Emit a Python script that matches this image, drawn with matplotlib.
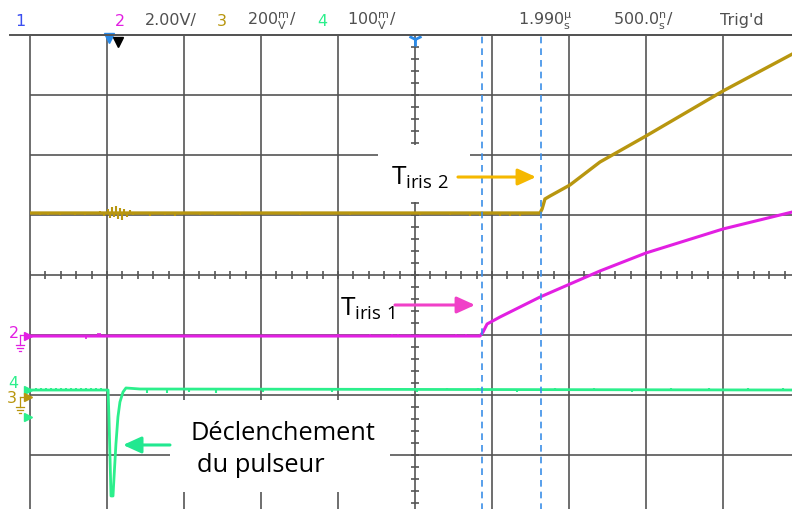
import numpy as np
import matplotlib
matplotlib.use("Agg")
import matplotlib.pyplot as plt
from matplotlib.patches import Rectangle

# timebase: 500 ns/div, delay 1.990 us at screen centre
t_center = 1.990
t_div = 0.5
t_left = t_center - 5 * t_div
t_right = t_center + 5 * t_div

# vertical positions are in screen divisions, 0 = centre line
# channel 3 (gold) : T iris 2
ch3_t = [t_left, 2.802, 2.815, 2.834, 2.867, 2.996, 3.191, 3.490, 3.990, 4.440]
ch3_y = [1.033, 1.033, 1.100, 1.267, 1.317, 1.500, 1.883, 2.317, 3.067, 3.683]
ch3_glitch_t = [-0.445, -0.393, -0.315, -0.218, -0.153, -0.055, -0.029, -0.003, 0.010,
                0.023, 0.036, 0.049, 0.062, 0.075, 0.088, 0.101, 0.120, 0.140, 0.159,
                0.269, 0.367, 0.432, 0.594, 0.692, 0.854, 1.244, 1.568, 2.023, 2.218,
                2.347, 2.412, 2.542, 2.607, 2.672]
ch3_glitch_a = [-0.03, -0.03, -0.03, -0.03, -0.03, 0.03, -0.05, 0.07, -0.08,
                0.10, -0.07, 0.12, -0.10, 0.08, -0.12, 0.07, -0.07, 0.05, -0.03,
                -0.05, -0.03, -0.05, -0.03, -0.03, -0.03, -0.03, -0.03, -0.03, -0.03,
                -0.05, -0.05, -0.05, -0.05, -0.05]

# channel 2 (magenta) : T iris 1
ch2_t = [t_left, 2.412, 2.432, 2.458, 2.542, 2.802, 3.191, 3.490, 3.990, 4.440]
ch2_y = [-1.017, -1.017, -0.950, -0.817, -0.700, -0.367, 0.067, 0.367, 0.767, 1.050]
ch2_glitch_t = [-0.146, -0.068, -0.055, 1.490, 1.698, 1.841, 1.880, 2.256, 2.321]
ch2_glitch_a = [-0.05, 0.05, 0.05, 0.04, 0.04, 0.04, 0.04, 0.04, 0.04]

# channel 4 (green) : trigger pulse
ch4_t = [t_left, -0.003, 0.003, 0.016, 0.029, 0.035, 0.048, 0.061, 0.074, 0.094, 0.113,
         0.204, t_right]
ch4_y = [-1.917, -1.917, -2.400, -3.683, -3.683, -3.400, -2.817, -2.367, -2.117,
         -1.950, -1.883, -1.900, -1.917]
ch4_glitch_t = [-0.470, -0.438, -0.406, -0.373, -0.341, -0.308, -0.276, -0.243, -0.211,
                -0.178, -0.146, -0.114, -0.081, -0.049, 0.250, 0.320, 0.380, 0.450,
                0.520, 0.600, 0.700, 0.790, 0.880, 1.000, 1.150, 1.300, 1.450, 1.600,
                1.800, 2.000, 2.200, 2.400, 2.650, 2.900, 3.150, 3.400, 3.650, 3.900,
                4.150, 4.380]
ch4_glitch_a = [0.04, 0.04, 0.04, 0.04, 0.04, 0.04, 0.04, 0.04, 0.04,
                0.04, 0.04, 0.04, 0.04, 0.04, -0.05, 0.04, -0.05, 0.04,
                -0.04, 0.04, -0.05, 0.04, 0.04, -0.04, 0.04, 0.04, -0.04, 0.04,
                0.04, -0.04, 0.04, 0.04, -0.04, 0.04, 0.04, -0.04, 0.04, 0.04,
                0.04, 0.04]

# cursors
cursor_t = [2.425, 2.808]

gold = "#b8960f"
magenta = "#e21fe2"
green = "#2cef8c"
grid_col = "#555555"

fig = plt.figure(figsize=(7.92, 5.10), dpi=100)
fig.patch.set_facecolor("white")
ax = fig.add_axes([30 / 792, -6 / 510, 770 / 792, 480 / 510])
ax.set_xlim(t_left, t_right)
ax.set_ylim(-4, 4)
ax.axis("off")

# graticule
grid_t = t_left + t_div * np.arange(11)
grid_y = np.arange(-4, 5)
ax.vlines(grid_t, -4, 4, color=grid_col, lw=1.2, clip_on=False, zorder=1)
ax.hlines(grid_y, t_left, t_right, color=grid_col, lw=1.2, clip_on=False, zorder=1)
fig.add_artist(plt.Line2D([10 / 792, 1], [1 - 36 / 510] * 2, color=grid_col, lw=1.4))
minor_t = t_left + t_div * np.arange(0, 10.01, 0.2)
minor_y = np.arange(-4, 4.01, 0.2)
ax.plot(minor_t, np.zeros_like(minor_t), ls="none", marker="|", ms=6, mew=1.2,
        color=grid_col, zorder=1)
ax.plot(np.full_like(minor_y, t_center), minor_y, ls="none", marker="_", ms=6, mew=1.2,
        color=grid_col, zorder=1)

# traces
ax.plot(ch3_t, ch3_y, color=gold, lw=2.4, zorder=3, solid_joinstyle="miter")
ax.vlines(ch3_glitch_t, 1.033, 1.033 + np.array(ch3_glitch_a), color=gold, lw=1.5, zorder=3)
ax.plot(ch2_t, ch2_y, color=magenta, lw=2.2, zorder=3)
ax.vlines(ch2_glitch_t, -1.017, -1.017 + np.array(ch2_glitch_a), color=magenta, lw=1.2, zorder=3)
ax.plot(ch4_t, ch4_y, color=green, lw=2.0, zorder=3)
ax.vlines(ch4_glitch_t, -1.917, -1.917 + np.array(ch4_glitch_a), color=green, lw=1.5, zorder=3)

for tc in cursor_t:
    ax.axvline(tc, color="#3b8fe8", lw=1.2, ls=(0, (4, 3)), zorder=4)

# annotation boxes
ax.add_patch(Rectangle((0.40, -3.617), 1.43, 1.534, facecolor="white", edgecolor="none", zorder=5))
ax.add_patch(Rectangle((1.75, 1.217), 0.597, 0.95, facecolor="white", edgecolor="none", zorder=2))

txt_font = ["Open Sans", "DejaVu Sans"]
ax.text(1.835, 1.52, r"T$_{\mathregular{iris\ 2}}$", fontsize=19, family=txt_font,
        ha="left", va="baseline", zorder=6)
ax.text(1.500, -0.66, r"T$_{\mathregular{iris\ 1}}$", fontsize=19, family=txt_font,
        ha="left", va="baseline", zorder=6)
ax.text(0.529, -2.733, "Déclenchement", fontsize=18.3, family=txt_font,
        ha="left", va="baseline", zorder=6)
ax.text(0.575, -3.267, "du pulseur", fontsize=18.3, family=txt_font,
        ha="left", va="baseline", zorder=6)


def arrow(x0, x1, y, col):
    ax.annotate("", xy=(x1, y), xytext=(x0, y), zorder=6,
                arrowprops=dict(arrowstyle="-|>,head_length=1.1,head_width=0.5",
                                lw=2.2, color=col, shrinkA=0, shrinkB=0,
                                mutation_scale=10))


arrow(2.269, 2.776, 1.633, "#f5b800")
arrow(1.860, 2.380, -0.500, "#f040c8")
arrow(0.399, 0.094, -2.833, "#22e890")

# channel markers on the left edge
for yy, c in zip([-1.017, -1.917, -2.033, -2.367], [magenta, green, gold, green]):
    ax.plot([t_left - 0.012], [yy], marker=">", ms=6, color=c, clip_on=False, zorder=6)
ax.text(t_left - 0.105, -0.95, "2", color=magenta, fontsize=11.5, ha="center", va="center", clip_on=False)
ax.text(t_left - 0.11, -1.80, "4", color=green, fontsize=11.5, ha="center", va="center", clip_on=False)
ax.text(t_left - 0.115, -2.05, "3", color=gold, fontsize=11.5, ha="center", va="center", clip_on=False)


def ground(px, py, col):
    # small ground symbol hanging below a channel marker, figure pixels
    fx = lambda x: x / 792
    fy = lambda y: 1 - y / 510
    segs = [([px, px + 5], [py, py]), ([px, px], [py, py + 10]),
            ([px - 4, px + 4], [py + 10, py + 10]), ([px - 3, px + 3], [py + 13, py + 13]),
            ([px - 1, px + 1], [py + 16, py + 16])]
    for xs, ys in segs:
        fig.add_artist(plt.Line2D([fx(x) for x in xs], [fy(y) for y in ys], color=col, lw=0.9))


ground(20, 336, magenta)
ground(20, 398, gold)

# top markers: trigger point and delay
ax.plot([0.0], [3.95], marker="v", ms=7, color="#2a8ae8", clip_on=False, zorder=6)
ax.plot([0.06], [3.88], marker="v", ms=7, color="black", clip_on=False, zorder=6)
ax.plot([t_center], [3.93], marker="1", ms=10, mew=2, color="#2a8ae8", clip_on=False, zorder=6)

# header line
hy = 1 - 21 / 510
hdr = dict(fontsize=11.5, va="center", family="DejaVu Sans")
fig.text(20 / 792, hy, "1", color="#3a4ef0", ha="center", **hdr)
fig.text(120 / 792, hy, "2", color=magenta, ha="center", **hdr)
fig.text(145 / 792, hy, "2.00V/", color="#505050", ha="left", **hdr)
fig.text(222 / 792, hy, "3", color=gold, ha="center", **hdr)
fig.text(247 / 792, hy, r"$\mathregular{200^{m}_{V}/}$", color="#505050", ha="left", **hdr)
fig.text(322 / 792, hy, "4", color=green, ha="center", **hdr)
fig.text(347 / 792, hy, r"$\mathregular{100^{m}_{V}/}$", color="#505050", ha="left", **hdr)
fig.text(518 / 792, hy, r"$\mathregular{1.990^{µ}_{s}}$", color="#505050", ha="left", **hdr)
fig.text(613 / 792, hy, r"$\mathregular{500.0^{n}_{s}/}$", color="#505050", ha="left", **hdr)
fig.text(720 / 792, hy, "Trig'd", color="#505050", ha="left", **hdr)

fig.savefig("out.png", dpi=100, facecolor="white")
